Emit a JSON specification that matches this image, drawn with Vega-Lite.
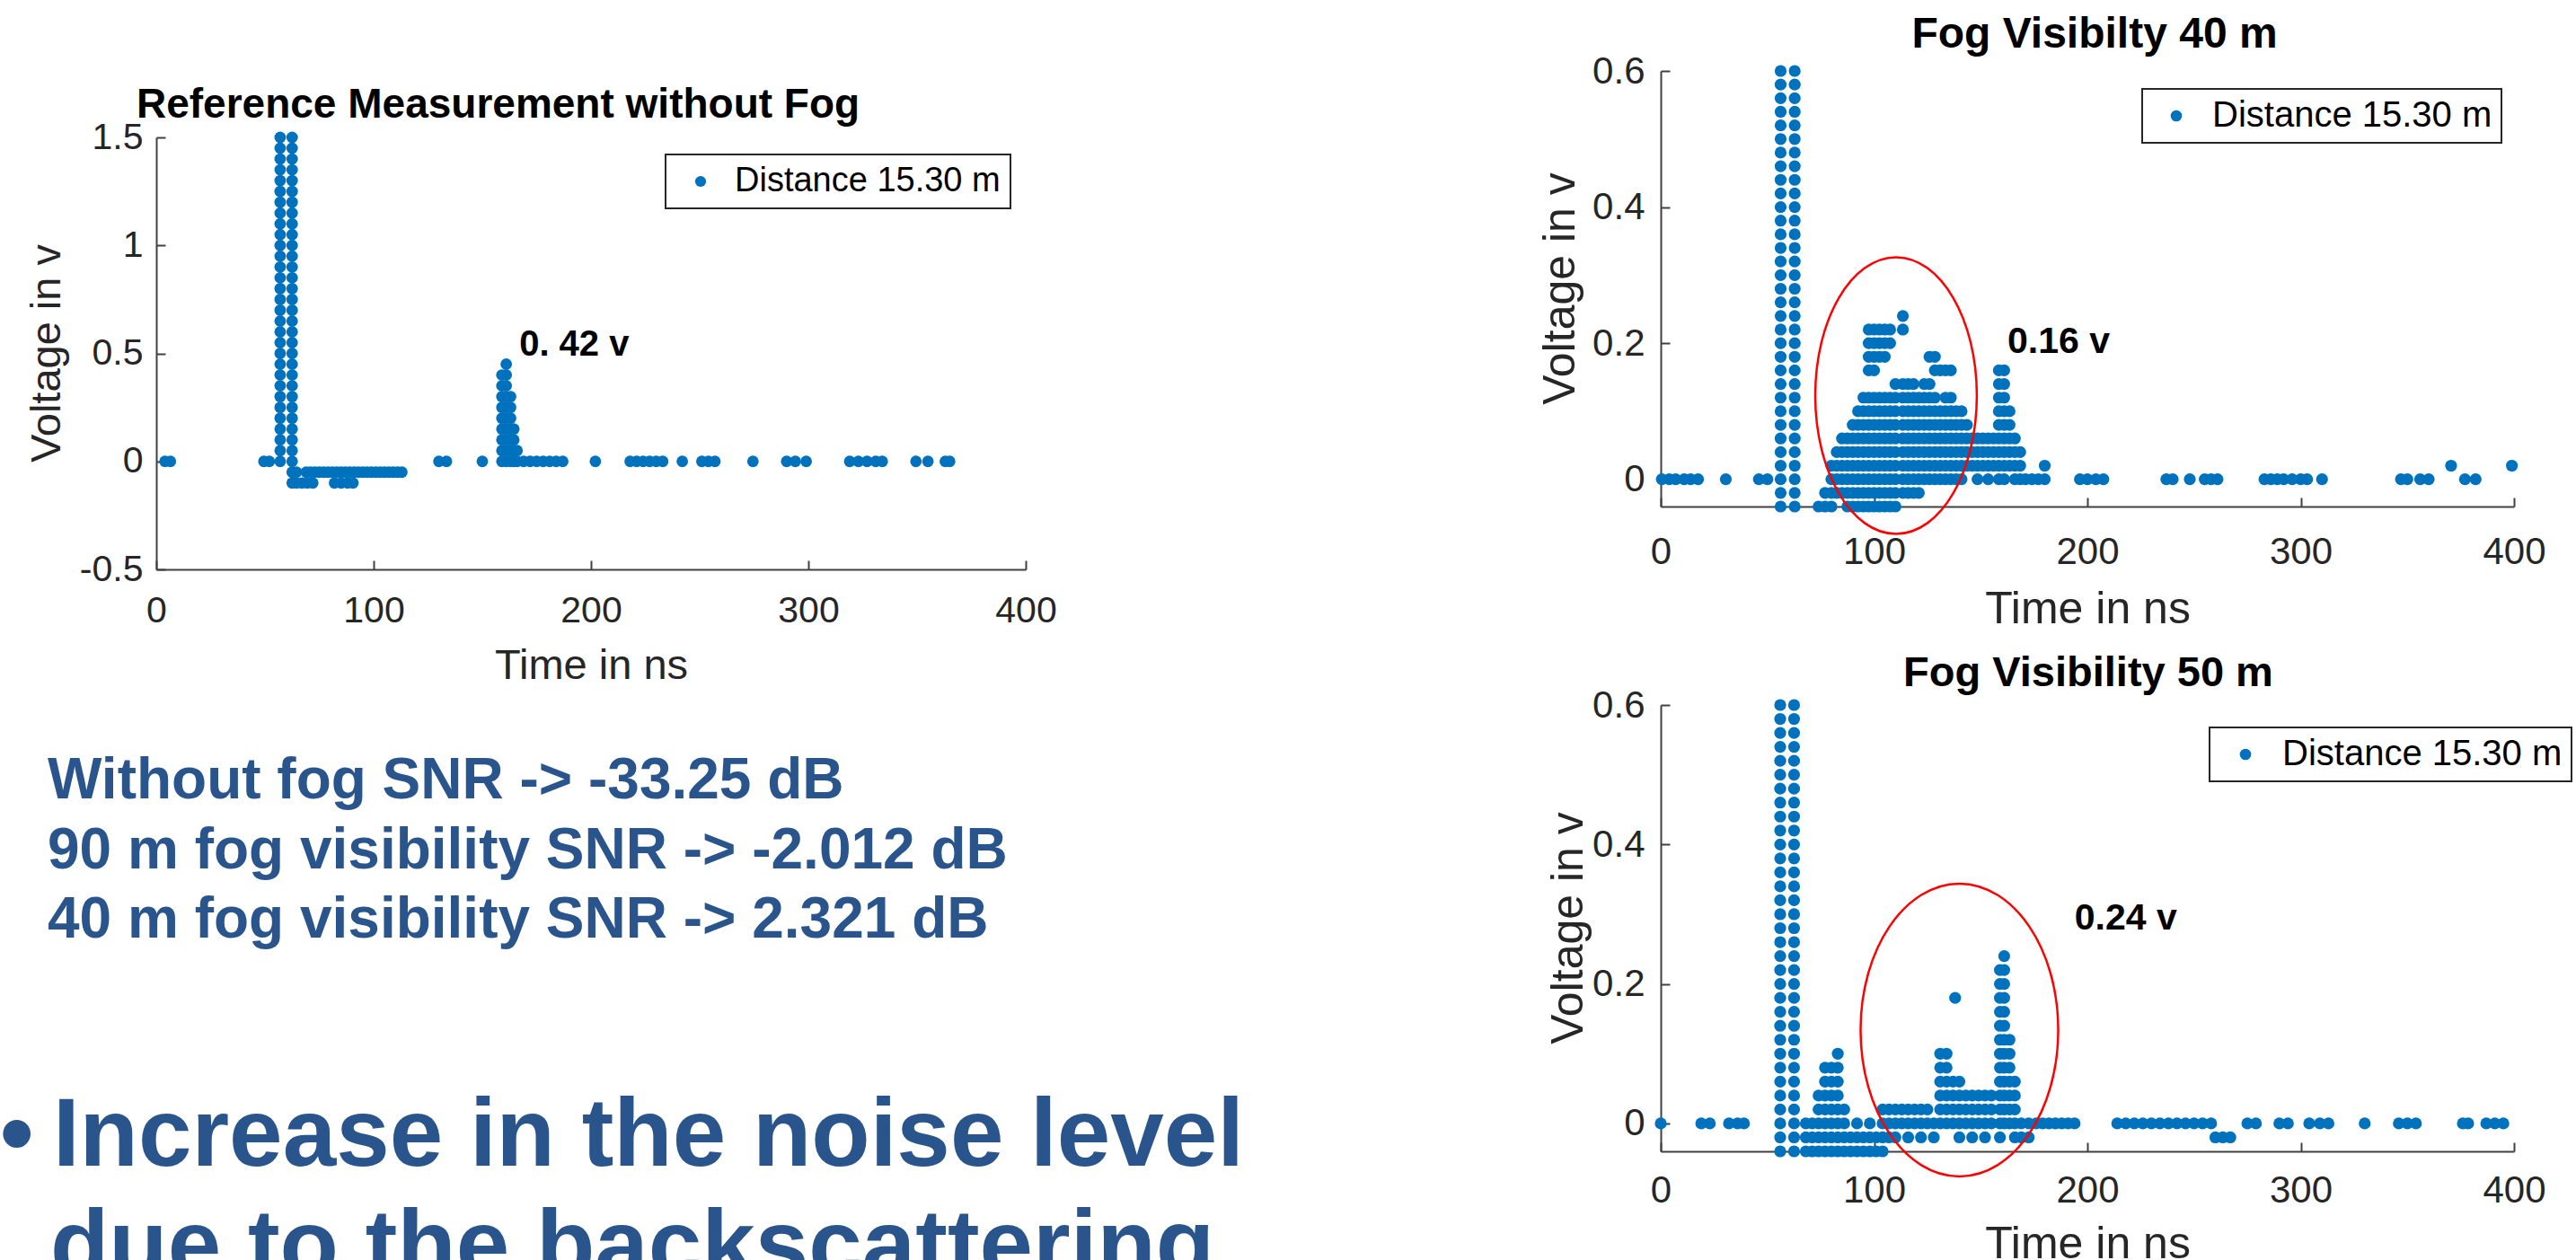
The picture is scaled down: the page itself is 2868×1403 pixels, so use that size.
{
"$schema": "https://vega.github.io/schema/vega-lite/v6.json",
"background": "white",
"padding": {"left": 0, "top": 15, "right": 0, "bottom": 0},
"bounds": "flush",
"spacing": 1675,
"resolve": {"scale": {"color": "independent"}, "legend": {"color": "independent"}},
"config": {
  "font": "Liberation Sans",
  "view": {"stroke": null},
  "axis": {"grid": false, "domainColor": "#404040", "domainWidth": 2, "tickColor": "#404040", "tickWidth": 2, "tickSize": -10, "labelFont": "Liberation Sans", "labelColor": "#262626", "titleColor": "#262626", "titleFont": "Liberation Sans", "titleFontWeight": "normal", "labelFlush": false, "labelOverlap": false, "labelBound": false},
  "title": {"font": "Liberation Sans", "fontWeight": "bold", "color": "#000000", "baseline": "alphabetic", "frame": "group"},
  "legend": {"orient": "none", "strokeColor": "#262626", "strokeWidth": 2, "fillColor": "white", "symbolType": "circle", "symbolStrokeWidth": 0, "symbolFillColor": "#0072BD", "labelFont": "Liberation Sans", "labelColor": "#000000", "labelLimit": 0}
},
"datasets": {
"ref": [
{"time":4,"voltage":0},{"time":6.5,"voltage":0},{"time":49.5,"voltage":0},{"time":52,"voltage":0},
{"time":57,"voltage":0},{"time":57,"voltage":0.05},{"time":57,"voltage":0.1},{"time":57,"voltage":0.15},{"time":57,"voltage":0.2},{"time":57,"voltage":0.25},{"time":57,"voltage":0.3},{"time":57,"voltage":0.35},{"time":57,"voltage":0.4},{"time":57,"voltage":0.45},{"time":57,"voltage":0.5},{"time":57,"voltage":0.55},{"time":57,"voltage":0.6},{"time":57,"voltage":0.65},{"time":57,"voltage":0.7},{"time":57,"voltage":0.75},{"time":57,"voltage":0.8},{"time":57,"voltage":0.85},{"time":57,"voltage":0.9},{"time":57,"voltage":0.95},{"time":57,"voltage":1},{"time":57,"voltage":1.05},{"time":57,"voltage":1.1},{"time":57,"voltage":1.15},{"time":57,"voltage":1.2},{"time":57,"voltage":1.25},{"time":57,"voltage":1.3},{"time":57,"voltage":1.35},{"time":57,"voltage":1.4},{"time":57,"voltage":1.45},{"time":57,"voltage":1.5},
{"time":62.5,"voltage":-0.1},{"time":62.5,"voltage":-0.05},{"time":62.5,"voltage":0},{"time":62.5,"voltage":0.05},{"time":62.5,"voltage":0.1},{"time":62.5,"voltage":0.15},{"time":62.5,"voltage":0.2},{"time":62.5,"voltage":0.25},{"time":62.5,"voltage":0.3},{"time":62.5,"voltage":0.35},{"time":62.5,"voltage":0.4},{"time":62.5,"voltage":0.45},{"time":62.5,"voltage":0.5},{"time":62.5,"voltage":0.55},{"time":62.5,"voltage":0.6},{"time":62.5,"voltage":0.65},{"time":62.5,"voltage":0.7},{"time":62.5,"voltage":0.75},{"time":62.5,"voltage":0.8},{"time":62.5,"voltage":0.85},{"time":62.5,"voltage":0.9},{"time":62.5,"voltage":0.95},{"time":62.5,"voltage":1},{"time":62.5,"voltage":1.05},{"time":62.5,"voltage":1.1},{"time":62.5,"voltage":1.15},{"time":62.5,"voltage":1.2},{"time":62.5,"voltage":1.25},{"time":62.5,"voltage":1.3},{"time":62.5,"voltage":1.35},{"time":62.5,"voltage":1.4},{"time":62.5,"voltage":1.45},{"time":62.5,"voltage":1.5},
{"time":64.5,"voltage":-0.1},{"time":64.5,"voltage":-0.05},
{"time":67,"voltage":-0.1},{"time":69.5,"voltage":-0.1},{"time":72,"voltage":-0.1},{"time":82,"voltage":-0.1},{"time":85,"voltage":-0.1},{"time":88,"voltage":-0.1},{"time":90.5,"voltage":-0.1},
{"time":69,"voltage":-0.05},{"time":71,"voltage":-0.05},{"time":73,"voltage":-0.05},{"time":75,"voltage":-0.05},{"time":77,"voltage":-0.05},{"time":79,"voltage":-0.05},{"time":81,"voltage":-0.05},{"time":83,"voltage":-0.05},{"time":85,"voltage":-0.05},{"time":87,"voltage":-0.05},{"time":89,"voltage":-0.05},{"time":91,"voltage":-0.05},{"time":93,"voltage":-0.05},{"time":95,"voltage":-0.05},{"time":97,"voltage":-0.05},{"time":99,"voltage":-0.05},{"time":101,"voltage":-0.05},{"time":103,"voltage":-0.05},{"time":105,"voltage":-0.05},{"time":107,"voltage":-0.05},{"time":109,"voltage":-0.05},{"time":111,"voltage":-0.05},{"time":113,"voltage":-0.05},
{"time":130,"voltage":0},{"time":133.5,"voltage":0},{"time":150,"voltage":0},
{"time":159,"voltage":0},{"time":159,"voltage":0.05},{"time":159,"voltage":0.1},{"time":159,"voltage":0.15},{"time":159,"voltage":0.2},{"time":159,"voltage":0.25},{"time":159,"voltage":0.3},{"time":159,"voltage":0.35},{"time":159,"voltage":0.4},
{"time":161,"voltage":0},{"time":161,"voltage":0.05},{"time":161,"voltage":0.1},{"time":161,"voltage":0.15},{"time":161,"voltage":0.2},{"time":161,"voltage":0.25},{"time":161,"voltage":0.3},{"time":161,"voltage":0.35},{"time":161,"voltage":0.4},{"time":161,"voltage":0.45},
{"time":163,"voltage":0},{"time":163,"voltage":0.05},{"time":163,"voltage":0.1},{"time":163,"voltage":0.15},{"time":163,"voltage":0.2},{"time":163,"voltage":0.25},{"time":163,"voltage":0.3},
{"time":164.5,"voltage":0},{"time":164.5,"voltage":0.05},{"time":164.5,"voltage":0.1},{"time":164.5,"voltage":0.15},
{"time":166,"voltage":0},{"time":166,"voltage":0.05},
{"time":169,"voltage":0},{"time":172,"voltage":0},{"time":175,"voltage":0},{"time":178,"voltage":0},{"time":181,"voltage":0},{"time":184,"voltage":0},{"time":187,"voltage":0},{"time":202,"voltage":0},{"time":218,"voltage":0},{"time":221,"voltage":0},{"time":224,"voltage":0},{"time":227,"voltage":0},{"time":230,"voltage":0},{"time":233,"voltage":0},{"time":242,"voltage":0},{"time":251,"voltage":0},{"time":254,"voltage":0},{"time":257,"voltage":0},{"time":274.5,"voltage":0},{"time":290,"voltage":0},{"time":294,"voltage":0},{"time":299,"voltage":0},{"time":319,"voltage":0},{"time":323,"voltage":0},{"time":327,"voltage":0},{"time":331,"voltage":0},{"time":334,"voltage":0},{"time":349.5,"voltage":0},{"time":355,"voltage":0},{"time":363,"voltage":0},{"time":365,"voltage":0}
],
"fog40": [
{"time":0.5,"voltage":0},{"time":4,"voltage":0},{"time":7,"voltage":0},{"time":11,"voltage":0},{"time":14,"voltage":0},{"time":17.5,"voltage":0},{"time":30.5,"voltage":0},{"time":46,"voltage":0},{"time":50,"voltage":0},
{"time":56.2,"voltage":-0.04},{"time":56.2,"voltage":-0.02},{"time":56.2,"voltage":0},{"time":56.2,"voltage":0.02},{"time":56.2,"voltage":0.04},{"time":56.2,"voltage":0.06},{"time":56.2,"voltage":0.08},{"time":56.2,"voltage":0.1},{"time":56.2,"voltage":0.12},{"time":56.2,"voltage":0.14},{"time":56.2,"voltage":0.16},{"time":56.2,"voltage":0.18},{"time":56.2,"voltage":0.2},{"time":56.2,"voltage":0.22},{"time":56.2,"voltage":0.24},{"time":56.2,"voltage":0.26},{"time":56.2,"voltage":0.28},{"time":56.2,"voltage":0.3},{"time":56.2,"voltage":0.32},{"time":56.2,"voltage":0.34},{"time":56.2,"voltage":0.36},{"time":56.2,"voltage":0.38},{"time":56.2,"voltage":0.4},{"time":56.2,"voltage":0.42},{"time":56.2,"voltage":0.44},{"time":56.2,"voltage":0.46},{"time":56.2,"voltage":0.48},{"time":56.2,"voltage":0.5},{"time":56.2,"voltage":0.52},{"time":56.2,"voltage":0.54},{"time":56.2,"voltage":0.56},{"time":56.2,"voltage":0.58},{"time":56.2,"voltage":0.6},
{"time":62.8,"voltage":-0.04},{"time":62.8,"voltage":-0.02},{"time":62.8,"voltage":0},{"time":62.8,"voltage":0.02},{"time":62.8,"voltage":0.04},{"time":62.8,"voltage":0.06},{"time":62.8,"voltage":0.08},{"time":62.8,"voltage":0.1},{"time":62.8,"voltage":0.12},{"time":62.8,"voltage":0.14},{"time":62.8,"voltage":0.16},{"time":62.8,"voltage":0.18},{"time":62.8,"voltage":0.2},{"time":62.8,"voltage":0.22},{"time":62.8,"voltage":0.24},{"time":62.8,"voltage":0.26},{"time":62.8,"voltage":0.28},{"time":62.8,"voltage":0.3},{"time":62.8,"voltage":0.32},{"time":62.8,"voltage":0.34},{"time":62.8,"voltage":0.36},{"time":62.8,"voltage":0.38},{"time":62.8,"voltage":0.4},{"time":62.8,"voltage":0.42},{"time":62.8,"voltage":0.44},{"time":62.8,"voltage":0.46},{"time":62.8,"voltage":0.48},{"time":62.8,"voltage":0.5},{"time":62.8,"voltage":0.52},{"time":62.8,"voltage":0.54},{"time":62.8,"voltage":0.56},{"time":62.8,"voltage":0.58},{"time":62.8,"voltage":0.6},
{"time":74,"voltage":-0.04},
{"time":77,"voltage":-0.04},{"time":77,"voltage":-0.02},
{"time":80,"voltage":-0.04},{"time":80,"voltage":-0.02},{"time":80,"voltage":0},{"time":80,"voltage":0.02},
{"time":82.5,"voltage":-0.02},{"time":82.5,"voltage":0},{"time":82.5,"voltage":0.02},{"time":82.5,"voltage":0.04},
{"time":85,"voltage":-0.02},{"time":85,"voltage":0},{"time":85,"voltage":0.02},{"time":85,"voltage":0.04},{"time":85,"voltage":0.06},
{"time":87.5,"voltage":-0.04},{"time":87.5,"voltage":-0.02},{"time":87.5,"voltage":0},{"time":87.5,"voltage":0.02},{"time":87.5,"voltage":0.04},{"time":87.5,"voltage":0.06},
{"time":90,"voltage":-0.04},{"time":90,"voltage":-0.02},{"time":90,"voltage":0},{"time":90,"voltage":0.02},{"time":90,"voltage":0.04},{"time":90,"voltage":0.06},{"time":90,"voltage":0.08},
{"time":92.5,"voltage":-0.04},{"time":92.5,"voltage":-0.02},{"time":92.5,"voltage":0},{"time":92.5,"voltage":0.02},{"time":92.5,"voltage":0.04},{"time":92.5,"voltage":0.06},{"time":92.5,"voltage":0.08},{"time":92.5,"voltage":0.1},
{"time":95,"voltage":-0.04},{"time":95,"voltage":-0.02},{"time":95,"voltage":0},{"time":95,"voltage":0.02},{"time":95,"voltage":0.04},{"time":95,"voltage":0.06},{"time":95,"voltage":0.08},{"time":95,"voltage":0.1},{"time":95,"voltage":0.12},
{"time":97.5,"voltage":-0.04},{"time":97.5,"voltage":-0.02},{"time":97.5,"voltage":0},{"time":97.5,"voltage":0.02},{"time":97.5,"voltage":0.04},{"time":97.5,"voltage":0.06},{"time":97.5,"voltage":0.08},{"time":97.5,"voltage":0.1},{"time":97.5,"voltage":0.12},{"time":97.5,"voltage":0.16},{"time":97.5,"voltage":0.18},{"time":97.5,"voltage":0.2},{"time":97.5,"voltage":0.22},
{"time":100,"voltage":-0.04},{"time":100,"voltage":-0.02},{"time":100,"voltage":0},{"time":100,"voltage":0.02},{"time":100,"voltage":0.04},{"time":100,"voltage":0.06},{"time":100,"voltage":0.08},{"time":100,"voltage":0.1},{"time":100,"voltage":0.12},{"time":100,"voltage":0.16},{"time":100,"voltage":0.18},{"time":100,"voltage":0.2},{"time":100,"voltage":0.22},
{"time":102.5,"voltage":-0.04},{"time":102.5,"voltage":-0.02},{"time":102.5,"voltage":0},{"time":102.5,"voltage":0.02},{"time":102.5,"voltage":0.04},{"time":102.5,"voltage":0.06},{"time":102.5,"voltage":0.08},{"time":102.5,"voltage":0.1},{"time":102.5,"voltage":0.12},{"time":102.5,"voltage":0.18},{"time":102.5,"voltage":0.2},{"time":102.5,"voltage":0.22},
{"time":105,"voltage":-0.04},{"time":105,"voltage":-0.02},{"time":105,"voltage":0},{"time":105,"voltage":0.02},{"time":105,"voltage":0.04},{"time":105,"voltage":0.06},{"time":105,"voltage":0.08},{"time":105,"voltage":0.1},{"time":105,"voltage":0.12},{"time":105,"voltage":0.18},{"time":105,"voltage":0.2},{"time":105,"voltage":0.22},
{"time":107.5,"voltage":-0.04},{"time":107.5,"voltage":-0.02},{"time":107.5,"voltage":0},{"time":107.5,"voltage":0.02},{"time":107.5,"voltage":0.04},{"time":107.5,"voltage":0.06},{"time":107.5,"voltage":0.08},{"time":107.5,"voltage":0.1},{"time":107.5,"voltage":0.12},{"time":107.5,"voltage":0.2},{"time":107.5,"voltage":0.22},
{"time":110,"voltage":-0.04},{"time":110,"voltage":-0.02},{"time":110,"voltage":0},{"time":110,"voltage":0.02},{"time":110,"voltage":0.04},{"time":110,"voltage":0.06},{"time":110,"voltage":0.08},{"time":110,"voltage":0.1},{"time":110,"voltage":0.12},{"time":110,"voltage":0.14},
{"time":113.5,"voltage":-0.02},{"time":113.5,"voltage":0},{"time":113.5,"voltage":0.02},{"time":113.5,"voltage":0.04},{"time":113.5,"voltage":0.06},{"time":113.5,"voltage":0.08},{"time":113.5,"voltage":0.1},{"time":113.5,"voltage":0.12},{"time":113.5,"voltage":0.14},{"time":113.5,"voltage":0.22},{"time":113.5,"voltage":0.24},
{"time":116,"voltage":-0.02},{"time":116,"voltage":0},{"time":116,"voltage":0.02},{"time":116,"voltage":0.04},{"time":116,"voltage":0.06},{"time":116,"voltage":0.08},{"time":116,"voltage":0.1},{"time":116,"voltage":0.12},{"time":116,"voltage":0.14},
{"time":118.5,"voltage":-0.02},{"time":118.5,"voltage":0},{"time":118.5,"voltage":0.02},{"time":118.5,"voltage":0.04},{"time":118.5,"voltage":0.06},{"time":118.5,"voltage":0.08},{"time":118.5,"voltage":0.1},{"time":118.5,"voltage":0.12},{"time":118.5,"voltage":0.14},
{"time":121,"voltage":-0.02},{"time":121,"voltage":0},{"time":121,"voltage":0.02},{"time":121,"voltage":0.04},{"time":121,"voltage":0.06},{"time":121,"voltage":0.08},{"time":121,"voltage":0.1},{"time":121,"voltage":0.12},
{"time":123.5,"voltage":0},{"time":123.5,"voltage":0.02},{"time":123.5,"voltage":0.04},{"time":123.5,"voltage":0.06},{"time":123.5,"voltage":0.08},{"time":123.5,"voltage":0.1},{"time":123.5,"voltage":0.12},{"time":123.5,"voltage":0.14},
{"time":126,"voltage":0},{"time":126,"voltage":0.02},{"time":126,"voltage":0.04},{"time":126,"voltage":0.06},{"time":126,"voltage":0.08},{"time":126,"voltage":0.1},{"time":126,"voltage":0.12},{"time":126,"voltage":0.14},{"time":126,"voltage":0.18},
{"time":128.5,"voltage":0},{"time":128.5,"voltage":0.02},{"time":128.5,"voltage":0.04},{"time":128.5,"voltage":0.06},{"time":128.5,"voltage":0.08},{"time":128.5,"voltage":0.1},{"time":128.5,"voltage":0.12},{"time":128.5,"voltage":0.16},{"time":128.5,"voltage":0.18},
{"time":131,"voltage":0},{"time":131,"voltage":0.02},{"time":131,"voltage":0.04},{"time":131,"voltage":0.06},{"time":131,"voltage":0.08},{"time":131,"voltage":0.1},{"time":131,"voltage":0.16},
{"time":133.5,"voltage":0},{"time":133.5,"voltage":0.02},{"time":133.5,"voltage":0.04},{"time":133.5,"voltage":0.06},{"time":133.5,"voltage":0.08},{"time":133.5,"voltage":0.1},{"time":133.5,"voltage":0.12},{"time":133.5,"voltage":0.16},
{"time":136,"voltage":0},{"time":136,"voltage":0.02},{"time":136,"voltage":0.04},{"time":136,"voltage":0.06},{"time":136,"voltage":0.08},{"time":136,"voltage":0.1},{"time":136,"voltage":0.12},{"time":136,"voltage":0.16},
{"time":138.5,"voltage":0},{"time":138.5,"voltage":0.02},{"time":138.5,"voltage":0.04},{"time":138.5,"voltage":0.06},{"time":138.5,"voltage":0.08},{"time":138.5,"voltage":0.1},
{"time":141,"voltage":0},{"time":141,"voltage":0.02},{"time":141,"voltage":0.04},{"time":141,"voltage":0.06},{"time":141,"voltage":0.08},{"time":141,"voltage":0.1},
{"time":143.5,"voltage":0.02},{"time":143.5,"voltage":0.04},{"time":143.5,"voltage":0.06},{"time":143.5,"voltage":0.08},
{"time":146,"voltage":0.02},{"time":146,"voltage":0.04},{"time":146,"voltage":0.06},
{"time":148.5,"voltage":0},{"time":148.5,"voltage":0.02},{"time":148.5,"voltage":0.04},{"time":148.5,"voltage":0.06},
{"time":151,"voltage":0.02},{"time":151,"voltage":0.04},{"time":151,"voltage":0.06},
{"time":153.5,"voltage":0},{"time":153.5,"voltage":0.02},{"time":153.5,"voltage":0.04},{"time":153.5,"voltage":0.06},
{"time":156,"voltage":0.02},{"time":156,"voltage":0.04},{"time":156,"voltage":0.06},
{"time":158.5,"voltage":0},{"time":158.5,"voltage":0.02},{"time":158.5,"voltage":0.04},{"time":158.5,"voltage":0.06},{"time":158.5,"voltage":0.08},{"time":158.5,"voltage":0.1},{"time":158.5,"voltage":0.12},{"time":158.5,"voltage":0.14},{"time":158.5,"voltage":0.16},
{"time":161,"voltage":0},{"time":161,"voltage":0.02},{"time":161,"voltage":0.04},{"time":161,"voltage":0.06},{"time":161,"voltage":0.08},{"time":161,"voltage":0.1},{"time":161,"voltage":0.12},{"time":161,"voltage":0.14},{"time":161,"voltage":0.16},
{"time":163.5,"voltage":0.02},{"time":163.5,"voltage":0.04},{"time":163.5,"voltage":0.06},{"time":163.5,"voltage":0.08},{"time":163.5,"voltage":0.1},
{"time":166,"voltage":0},{"time":166,"voltage":0.02},{"time":166,"voltage":0.04},{"time":166,"voltage":0.06},
{"time":168.5,"voltage":0},{"time":168.5,"voltage":0.02},{"time":168.5,"voltage":0.04},
{"time":171,"voltage":0},{"time":174,"voltage":0},{"time":177,"voltage":0},{"time":180,"voltage":0},{"time":180,"voltage":0.02},
{"time":196.5,"voltage":0},{"time":200,"voltage":0},{"time":204,"voltage":0},{"time":207.5,"voltage":0},{"time":237,"voltage":0},{"time":240,"voltage":0},{"time":248,"voltage":0},{"time":255,"voltage":0},{"time":258,"voltage":0},{"time":261,"voltage":0},{"time":283,"voltage":0},{"time":286,"voltage":0},{"time":289,"voltage":0},{"time":292,"voltage":0},{"time":296,"voltage":0},{"time":300,"voltage":0},{"time":303,"voltage":0},{"time":310,"voltage":0},{"time":347,"voltage":0},{"time":350,"voltage":0},{"time":356,"voltage":0},{"time":360,"voltage":0},{"time":370.5,"voltage":0.02},{"time":377,"voltage":0},{"time":382,"voltage":0},{"time":399,"voltage":0.02}
],
"fog50": [
{"time":0,"voltage":0},{"time":19,"voltage":0},{"time":23,"voltage":0},{"time":32,"voltage":0},{"time":36,"voltage":0},{"time":39,"voltage":0},
{"time":56,"voltage":-0.04},{"time":56,"voltage":-0.02},{"time":56,"voltage":0},{"time":56,"voltage":0.02},{"time":56,"voltage":0.04},{"time":56,"voltage":0.06},{"time":56,"voltage":0.08},{"time":56,"voltage":0.1},{"time":56,"voltage":0.12},{"time":56,"voltage":0.14},{"time":56,"voltage":0.16},{"time":56,"voltage":0.18},{"time":56,"voltage":0.2},{"time":56,"voltage":0.22},{"time":56,"voltage":0.24},{"time":56,"voltage":0.26},{"time":56,"voltage":0.28},{"time":56,"voltage":0.3},{"time":56,"voltage":0.32},{"time":56,"voltage":0.34},{"time":56,"voltage":0.36},{"time":56,"voltage":0.38},{"time":56,"voltage":0.4},{"time":56,"voltage":0.42},{"time":56,"voltage":0.44},{"time":56,"voltage":0.46},{"time":56,"voltage":0.48},{"time":56,"voltage":0.5},{"time":56,"voltage":0.52},{"time":56,"voltage":0.54},{"time":56,"voltage":0.56},{"time":56,"voltage":0.58},{"time":56,"voltage":0.6},
{"time":62.5,"voltage":-0.04},{"time":62.5,"voltage":-0.02},{"time":62.5,"voltage":0},{"time":62.5,"voltage":0.02},{"time":62.5,"voltage":0.04},{"time":62.5,"voltage":0.06},{"time":62.5,"voltage":0.08},{"time":62.5,"voltage":0.1},{"time":62.5,"voltage":0.12},{"time":62.5,"voltage":0.14},{"time":62.5,"voltage":0.16},{"time":62.5,"voltage":0.18},{"time":62.5,"voltage":0.2},{"time":62.5,"voltage":0.22},{"time":62.5,"voltage":0.24},{"time":62.5,"voltage":0.26},{"time":62.5,"voltage":0.28},{"time":62.5,"voltage":0.3},{"time":62.5,"voltage":0.32},{"time":62.5,"voltage":0.34},{"time":62.5,"voltage":0.36},{"time":62.5,"voltage":0.38},{"time":62.5,"voltage":0.4},{"time":62.5,"voltage":0.42},{"time":62.5,"voltage":0.44},{"time":62.5,"voltage":0.46},{"time":62.5,"voltage":0.48},{"time":62.5,"voltage":0.5},{"time":62.5,"voltage":0.52},{"time":62.5,"voltage":0.54},{"time":62.5,"voltage":0.56},{"time":62.5,"voltage":0.58},{"time":62.5,"voltage":0.6},
{"time":68,"voltage":-0.04},{"time":68,"voltage":-0.02},{"time":68,"voltage":0},
{"time":71,"voltage":-0.04},{"time":71,"voltage":-0.02},{"time":71,"voltage":0},
{"time":74,"voltage":-0.04},{"time":74,"voltage":-0.02},{"time":74,"voltage":0},{"time":74,"voltage":0.02},{"time":74,"voltage":0.04},
{"time":77,"voltage":-0.04},{"time":77,"voltage":-0.02},{"time":77,"voltage":0},{"time":77,"voltage":0.02},{"time":77,"voltage":0.04},{"time":77,"voltage":0.06},{"time":77,"voltage":0.08},
{"time":80,"voltage":-0.04},{"time":80,"voltage":-0.02},{"time":80,"voltage":0},{"time":80,"voltage":0.02},{"time":80,"voltage":0.04},{"time":80,"voltage":0.06},{"time":80,"voltage":0.08},
{"time":83,"voltage":-0.04},{"time":83,"voltage":-0.02},{"time":83,"voltage":0},{"time":83,"voltage":0.02},{"time":83,"voltage":0.04},{"time":83,"voltage":0.06},{"time":83,"voltage":0.08},{"time":83,"voltage":0.1},
{"time":86,"voltage":-0.04},{"time":86,"voltage":-0.02},{"time":86,"voltage":0},{"time":86,"voltage":0.02},
{"time":89,"voltage":-0.04},{"time":89,"voltage":-0.02},
{"time":92,"voltage":-0.04},{"time":92,"voltage":-0.02},{"time":92,"voltage":0},
{"time":95,"voltage":-0.04},{"time":95,"voltage":-0.02},
{"time":98,"voltage":-0.04},{"time":98,"voltage":-0.02},{"time":98,"voltage":0},
{"time":101,"voltage":-0.04},{"time":101,"voltage":-0.02},
{"time":104,"voltage":-0.04},{"time":104,"voltage":-0.02},{"time":104,"voltage":0},{"time":104,"voltage":0.02},
{"time":107,"voltage":-0.02},{"time":107,"voltage":0},{"time":107,"voltage":0.02},
{"time":110,"voltage":-0.02},{"time":110,"voltage":0},{"time":110,"voltage":0.02},
{"time":113,"voltage":0},{"time":113,"voltage":0.02},
{"time":116,"voltage":-0.02},{"time":116,"voltage":0},{"time":116,"voltage":0.02},
{"time":119,"voltage":0},{"time":119,"voltage":0.02},
{"time":122,"voltage":-0.02},{"time":122,"voltage":0},{"time":122,"voltage":0.02},
{"time":125,"voltage":0},{"time":125,"voltage":0.02},
{"time":128,"voltage":-0.02},{"time":128,"voltage":0},
{"time":131,"voltage":0},{"time":131,"voltage":0.02},{"time":131,"voltage":0.04},{"time":131,"voltage":0.06},{"time":131,"voltage":0.08},{"time":131,"voltage":0.1},
{"time":134,"voltage":0},{"time":134,"voltage":0.02},{"time":134,"voltage":0.04},{"time":134,"voltage":0.06},{"time":134,"voltage":0.08},{"time":134,"voltage":0.1},
{"time":137,"voltage":0},{"time":137,"voltage":0.02},{"time":137,"voltage":0.04},{"time":137,"voltage":0.06},
{"time":138,"voltage":0.18},
{"time":140,"voltage":-0.02},{"time":140,"voltage":0},{"time":140,"voltage":0.02},{"time":140,"voltage":0.04},{"time":140,"voltage":0.06},
{"time":143,"voltage":0},{"time":143,"voltage":0.02},{"time":143,"voltage":0.04},
{"time":146,"voltage":-0.02},{"time":146,"voltage":0},{"time":146,"voltage":0.02},{"time":146,"voltage":0.04},
{"time":149,"voltage":0},{"time":149,"voltage":0.02},{"time":149,"voltage":0.04},
{"time":152,"voltage":-0.02},{"time":152,"voltage":0},{"time":152,"voltage":0.02},{"time":152,"voltage":0.04},
{"time":155,"voltage":0},{"time":155,"voltage":0.02},{"time":155,"voltage":0.04},
{"time":159,"voltage":-0.02},{"time":159,"voltage":0},{"time":159,"voltage":0.02},{"time":159,"voltage":0.04},{"time":159,"voltage":0.06},{"time":159,"voltage":0.08},{"time":159,"voltage":0.1},{"time":159,"voltage":0.12},{"time":159,"voltage":0.14},{"time":159,"voltage":0.16},{"time":159,"voltage":0.18},{"time":159,"voltage":0.2},{"time":159,"voltage":0.22},
{"time":161,"voltage":0},{"time":161,"voltage":0.02},{"time":161,"voltage":0.04},{"time":161,"voltage":0.06},{"time":161,"voltage":0.08},{"time":161,"voltage":0.1},{"time":161,"voltage":0.12},{"time":161,"voltage":0.14},{"time":161,"voltage":0.16},{"time":161,"voltage":0.18},{"time":161,"voltage":0.2},{"time":161,"voltage":0.22},{"time":161,"voltage":0.24},
{"time":163.5,"voltage":0},{"time":163.5,"voltage":0.02},{"time":163.5,"voltage":0.04},{"time":163.5,"voltage":0.06},{"time":163.5,"voltage":0.08},{"time":163.5,"voltage":0.1},{"time":163.5,"voltage":0.12},
{"time":166,"voltage":-0.02},{"time":166,"voltage":0},{"time":166,"voltage":0.02},{"time":166,"voltage":0.04},{"time":166,"voltage":0.06},
{"time":169,"voltage":-0.02},{"time":169,"voltage":0},
{"time":172.5,"voltage":-0.02},{"time":172.5,"voltage":0},
{"time":176,"voltage":0},{"time":179,"voltage":0},{"time":182,"voltage":0},{"time":185,"voltage":0},{"time":188,"voltage":0},{"time":191,"voltage":0},{"time":194,"voltage":0},
{"time":214,"voltage":0},{"time":218,"voltage":0},{"time":222,"voltage":0},{"time":226,"voltage":0},{"time":230,"voltage":0},{"time":234,"voltage":0},{"time":238,"voltage":0},{"time":242,"voltage":0},{"time":246,"voltage":0},{"time":250,"voltage":0},{"time":254,"voltage":0},{"time":258,"voltage":0},
{"time":260,"voltage":-0.02},{"time":263.5,"voltage":-0.02},{"time":267,"voltage":-0.02},
{"time":275,"voltage":0},{"time":279,"voltage":0},{"time":290,"voltage":0},{"time":294,"voltage":0},{"time":304,"voltage":0},{"time":309,"voltage":0},{"time":313,"voltage":0},{"time":330,"voltage":0},{"time":346,"voltage":0},{"time":350,"voltage":0},{"time":354,"voltage":0},{"time":376,"voltage":0},{"time":378.5,"voltage":0},{"time":387,"voltage":0},{"time":391,"voltage":0},{"time":395,"voltage":0}
]
},
"hconcat": [
{
  "bounds": "flush",
  "spacing": 0,
  "resolve": {"scale": {"color": "independent"}, "legend": {"color": "independent"}},
  "vconcat": [
    {"width": 968, "height": 74, "data": {"values": [{"blank": ""}]}, "mark": {"type": "text", "fontSize": 1}, "encoding": {"text": {"field": "blank"}}},
    {
      "width": 968, "height": 481,
      "title": {"text": "Reference Measurement without Fog", "anchor": "start", "dx": -22, "offset": -9, "fontSize": 46},
      "layer": [
        {"data": {"name": "ref"},
         "mark": {"type": "point", "shape": "circle", "filled": true, "size": 165, "opacity": 1},
         "encoding": {
           "x": {"field": "time", "type": "quantitative", "scale": {"domain": [0, 400], "nice": false, "zero": false},
                 "axis": {"values": [0, 100, 200, 300, 400], "title": "Time in ns", "labelFontSize": 41, "titleFontSize": 47, "labelPadding": 36, "titleX": 484, "titleY": 121, "titleAlign": "center", "titleBaseline": "alphabetic"}},
           "y": {"field": "voltage", "type": "quantitative", "scale": {"domain": [-0.5, 1.5], "nice": false, "zero": false},
                 "axis": {"values": [-0.5, 0, 0.5, 1, 1.5], "title": "Voltage in v", "labelFontSize": 41, "titleFontSize": 47, "labelPadding": 25, "titleX": -108, "titleY": 240, "titleAngle": -90, "titleAlign": "center", "titleBaseline": "alphabetic", "labelExpr": "replace(format(datum.value, '~g'), '\u2212', '-')"}},
           "color": {"datum": "Distance 15.30 m", "type": "nominal", "scale": {"range": ["#0072BD"]},
                     "legend": {"title": null, "legendX": 567, "legendY": 19, "padding": 11, "symbolSize": 150, "symbolOffset": 9, "labelOffset": 19, "labelFontSize": 38}}
         }},
        {"data": {"values": [{"time": 167, "voltage": 0.489, "label": "0. 42 v"}]},
         "mark": {"type": "text", "align": "left", "baseline": "alphabetic", "fontSize": 40, "fontWeight": "bold", "color": "#000000"},
         "encoding": {"x": {"field": "time", "type": "quantitative"}, "y": {"field": "voltage", "type": "quantitative"}, "text": {"field": "label"}}}
      ]
    },
    {
      "width": 968, "height": 771,
      "layer": [
        {"data": {"values": [
          {"line": 1, "text": "Without fog SNR -> -33.25 dB"},
          {"line": 2, "text": "90 m fog visibility SNR -> -2.012 dB"},
          {"line": 3, "text": "40 m fog visibility SNR -> 2.321 dB"}]},
         "mark": {"type": "text", "align": "left", "baseline": "alphabetic", "fontSize": 64, "fontWeight": "bold", "color": "#2A558C"},
         "encoding": {
           "x": {"datum": 0, "type": "quantitative", "scale": {"domain": [0, 1], "range": [-121, 847]}, "axis": null},
           "y": {"field": "line", "type": "quantitative", "scale": {"domain": [1, 3], "range": [255, 410]}, "axis": null},
           "text": {"field": "text"}}},
        {"data": {"values": [
          {"line": 1, "indent": 0, "text": "•\u2009Increase in the noise level"},
          {"line": 2, "indent": 1, "text": "due to the backscattering"}]},
         "mark": {"type": "text", "align": "left", "baseline": "alphabetic", "fontSize": 107, "fontWeight": "bold", "color": "#2A558C"},
         "encoding": {
           "x": {"field": "indent", "type": "quantitative", "scale": {"domain": [0, 1], "range": [-174, -118]}, "axis": null},
           "y": {"field": "line", "type": "quantitative", "scale": {"domain": [1, 2], "range": [664, 788]}, "axis": null},
           "text": {"field": "text"}}}
      ],
      "resolve": {"scale": {"x": "independent", "y": "independent"}}
    }
  ]
},
{
  "bounds": "flush",
  "spacing": 221,
  "resolve": {"scale": {"color": "independent"}, "legend": {"color": "independent"}},
  "vconcat": [
    {
      "width": 950, "height": 485,
      "title": {"text": "Fog Visibilty 40 m", "anchor": "middle", "dx": 8, "offset": -5, "fontSize": 48},
      "layer": [
        {"data": {"name": "fog40"},
         "mark": {"type": "point", "shape": "circle", "filled": true, "size": 175, "opacity": 1},
         "encoding": {
           "x": {"field": "time", "type": "quantitative", "scale": {"domain": [0, 400], "nice": false, "zero": false},
                 "axis": {"values": [0, 100, 200, 300, 400], "title": "Time in ns", "labelFontSize": 42, "titleFontSize": 50, "labelPadding": 40, "titleX": 475, "titleY": 129, "titleAlign": "center", "titleBaseline": "alphabetic"}},
           "y": {"field": "voltage", "type": "quantitative", "scale": {"domain": [-0.04, 0.6], "nice": false, "zero": false},
                 "axis": {"values": [0, 0.2, 0.4, 0.6], "title": "Voltage in v", "labelFontSize": 42, "titleFontSize": 50, "labelPadding": 28, "titleX": -97, "titleY": 242, "titleAngle": -90, "titleAlign": "center", "titleBaseline": "alphabetic", "labelExpr": "replace(format(datum.value, '~g'), '\u2212', '-')"}},
           "color": {"datum": "Distance 15.30 m", "type": "nominal", "scale": {"range": ["#0072BD"]},
                     "legend": {"title": null, "legendX": 536, "legendY": 20, "padding": 10, "symbolSize": 160, "symbolOffset": 8, "labelOffset": 20, "labelFontSize": 40}}
         }},
        {"data": {"values": [{"time": 110.3, "voltage": 0.123}]},
         "mark": {"type": "point", "shape": "M -0.584 0 A 0.584 1 0 1 1 0.584 0 A 0.584 1 0 1 1 -0.584 0 Z", "size": 94864, "filled": false, "stroke": "#FF0000", "strokeWidth": 2.5, "opacity": 1},
         "encoding": {"x": {"field": "time", "type": "quantitative"}, "y": {"field": "voltage", "type": "quantitative"}}},
        {"data": {"values": [{"time": 162.5, "voltage": 0.185, "label": "0.16 v"}]},
         "mark": {"type": "text", "align": "left", "baseline": "alphabetic", "fontSize": 41, "fontWeight": "bold", "color": "#000000"},
         "encoding": {"x": {"field": "time", "type": "quantitative"}, "y": {"field": "voltage", "type": "quantitative"}, "text": {"field": "label"}}}
      ]
    },
    {
      "width": 950, "height": 497,
      "title": {"text": "Fog Visibility 50 m", "anchor": "middle", "dx": 1, "offset": -10, "fontSize": 47},
      "layer": [
        {"data": {"name": "fog50"},
         "mark": {"type": "point", "shape": "circle", "filled": true, "size": 175, "opacity": 1},
         "encoding": {
           "x": {"field": "time", "type": "quantitative", "scale": {"domain": [0, 400], "nice": false, "zero": false},
                 "axis": {"values": [0, 100, 200, 300, 400], "title": "Time in ns", "labelFontSize": 42, "titleFontSize": 50, "labelPadding": 33, "titleX": 475, "titleY": 118, "titleAlign": "center", "titleBaseline": "alphabetic"}},
           "y": {"field": "voltage", "type": "quantitative", "scale": {"domain": [-0.04, 0.6], "nice": false, "zero": false},
                 "axis": {"values": [0, 0.2, 0.4, 0.6], "title": "Voltage in v", "labelFontSize": 42, "titleFontSize": 50, "labelPadding": 28, "titleX": -88, "titleY": 248, "titleAngle": -90, "titleAlign": "center", "titleBaseline": "alphabetic", "labelExpr": "replace(format(datum.value, '~g'), '\u2212', '-')"}},
           "color": {"datum": "Distance 15.30 m", "type": "nominal", "scale": {"range": ["#0072BD"]},
                     "legend": {"title": null, "legendX": 611, "legendY": 25, "padding": 10, "symbolSize": 160, "symbolOffset": 10, "labelOffset": 21, "labelFontSize": 40}}
         }},
        {"data": {"values": [{"time": 140, "voltage": 0.134}]},
         "mark": {"type": "point", "shape": "M -0.675 0 A 0.675 1 0 1 1 0.675 0 A 0.675 1 0 1 1 -0.675 0 Z", "size": 106276, "filled": false, "stroke": "#FF0000", "strokeWidth": 2.5, "opacity": 1},
         "encoding": {"x": {"field": "time", "type": "quantitative"}, "y": {"field": "voltage", "type": "quantitative"}}},
        {"data": {"values": [{"time": 194, "voltage": 0.278, "label": "0.24 v"}]},
         "mark": {"type": "text", "align": "left", "baseline": "alphabetic", "fontSize": 41, "fontWeight": "bold", "color": "#000000"},
         "encoding": {"x": {"field": "time", "type": "quantitative"}, "y": {"field": "voltage", "type": "quantitative"}, "text": {"field": "label"}}}
      ]
    }
  ]
}
]
}
